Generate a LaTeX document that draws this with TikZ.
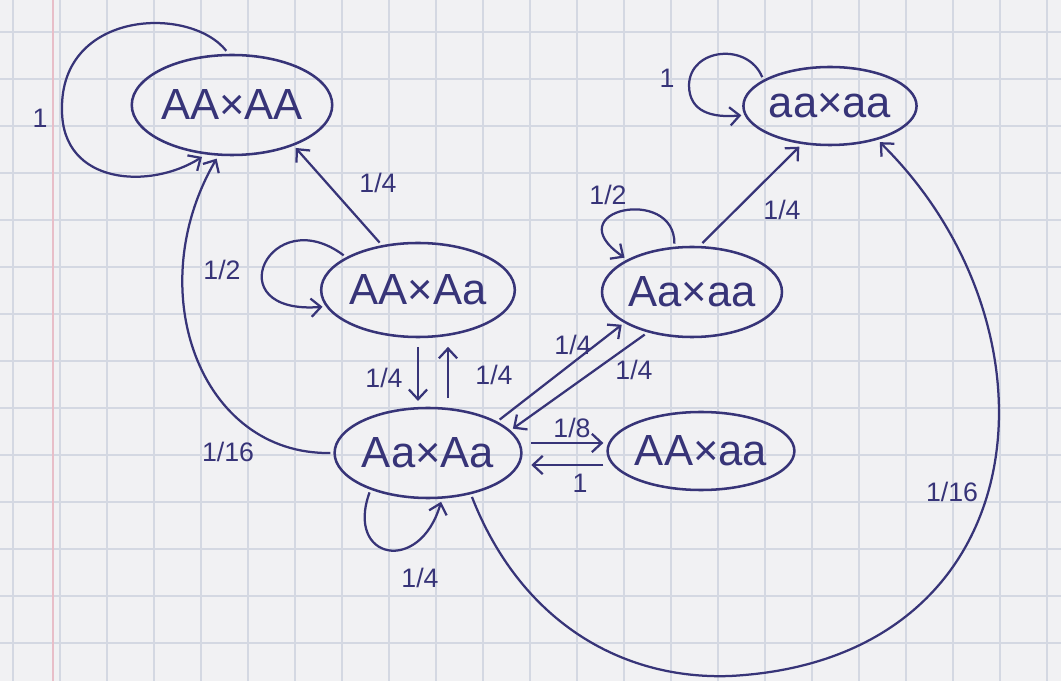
\documentclass[tikz,border=0pt]{standalone}
\usepackage{fontspec}
\setmainfont{Liberation Sans}
\usetikzlibrary{shapes.geometric,arrows.meta}
\definecolor{ink}{RGB}{55,52,120}
\definecolor{paper}{RGB}{241,241,243}
\definecolor{gridc}{RGB}{212,216,226}
\definecolor{margin}{RGB}{232,190,200}
\begin{document}
\begin{tikzpicture}[x=0.025cm,y=-0.025cm,
  state/.style={ellipse,draw=ink,line width=1.8pt,inner sep=0pt,outer sep=3pt,
    text=ink,font=\fontsize{31}{34}\selectfont},
  edge/.style={draw=ink,line width=1.6pt,-{Straight Barb[length=7pt,width=13pt]}},
  lbl/.style={text=ink,font=\fontsize{19}{22}\selectfont}]
\fill[paper] (0,0) rectangle (1061,681);
\useasboundingbox (0,0) rectangle (1061,681);
\foreach \x in {13,60,...,1061} \draw[gridc,line width=0.8pt] (\x,0) -- (\x,681);
\foreach \y in {32,79,...,681} \draw[gridc,line width=0.8pt] (0,\y) -- (1061,\y);
\draw[margin,line width=0.8pt] (53,0) -- (53,681);

\node[state,minimum width=5cm,minimum height=2.5cm] (AAAA) at (232,105) {AA×AA};
\node[state,minimum width=4.25cm,minimum height=1.95cm] (aaaa) at (830,106) {aa×aa};
\node[state,minimum width=4.75cm,minimum height=2.35cm] (AAAa) at (418,290) {AA×Aa};
\node[state,minimum width=4.1cm,minimum height=2.25cm] (Aaaa) at (692,292) {Aa×aa};
\node[state,minimum width=4.6cm,minimum height=2.25cm] (AaAa) at (428,453) {Aa×Aa};
\node[state,minimum width=4.45cm,minimum height=1.95cm] (AAaa) at (701,451) {AA×aa};

\coordinate (vu) at (448,0);
\coordinate (h1) at (0,443);
\coordinate (h2) at (0,465);

% self loops
\draw[edge] (AAAA.96) .. controls (190,5) and (60,10) .. (62,110) .. controls (62,185) and (150,190) .. (AAAA.240);
\draw[edge] (aaaa.157) .. controls (748,42) and (690,48) .. (689,85) .. controls (689,112) and (712,118) .. (aaaa.186);
\draw[edge] (AAAa.155) .. controls (270,200) and (215,315) .. (AAAa.190);
\draw[edge] (Aaaa.110) .. controls (675,185) and (555,210) .. (Aaaa.153);
\draw[edge] (AaAa.214) .. controls (345,560) and (420,575) .. (AaAa.285);

% transitions
\draw[edge] (AAAa.129) -- (AAAA.326);
\draw[edge] (AaAa.180) .. controls (200,455) and (140,290) .. (AAAA.254);
\draw[edge,shorten <=4pt,shorten >=2pt] (AAAa.south) -- (AAAa.south |- AaAa.north);
\draw[edge,shorten <=4pt,shorten >=4pt] (vu |- AaAa.north) -- (vu |- AAAa.south);
\draw[edge] (Aaaa.78) -- (aaaa.233);
\draw[edge] (AaAa.25) -- (Aaaa.205);
\draw[edge] (Aaaa.222) -- (AaAa.16);
\draw[edge,shorten <=4pt] (AaAa.east |- h1) -- (AAaa.west |- h1);
\draw[edge,shorten >=4pt] (AAaa.west |- h2) -- (AaAa.east |- h2);
\draw[edge] (AaAa.315) .. controls (520,620) and (620,680) .. (730,676) .. controls (1040,660) and (1070,330) .. (aaaa.324);

% labels
\node[lbl] (l1) at (40,118) {1};
\node[lbl] (l2) at (378,183) {1/4};
\node[lbl] (l3) at (228,452) {1/16};
\node[lbl] (l4) at (222,270) {1/2};
\node[lbl] (l5) at (384,378) {1/4};
\node[lbl] (l6) at (494,375) {1/4};
\node[lbl] (l7) at (608,195) {1/2};
\node[lbl] (l8) at (782,210) {1/4};
\node[lbl] (l9) at (573,345) {1/4};
\node[lbl] (l10) at (634,370) {1/4};
\node[lbl] (l11) at (572,428) {1/8};
\node[lbl] (l12) at (580,483) {1};
\node[lbl] (l13) at (420,578) {1/4};
\node[lbl] (l14) at (952,492) {1/16};
\node[lbl] (l15) at (667,78) {1};
\end{tikzpicture}
\end{document}
